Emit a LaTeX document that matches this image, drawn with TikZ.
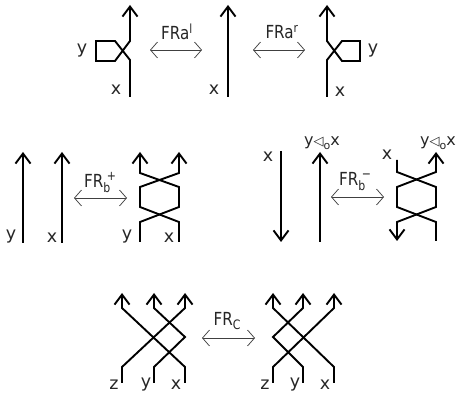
\documentclass[tikz,border=0pt]{standalone}
\usepackage{fontspec}
\setmainfont{DejaVu Sans}
\newfontfamily\frfont{DejaVu Sans}[FakeStretch=0.84]
\usetikzlibrary{arrows.meta}
\newcommand{\frstack}[2]{\raisebox{-5pt}{\fontsize{13}{13}\selectfont\shortstack[l]{\hspace{3.5pt}#1\\#2}}}
\begin{document}
\begin{tikzpicture}[x=1pt,y=-1pt,
  strand/.style={line width=1.9pt},
  upstrand/.style={strand,-{Straight Barb[length=10pt,width=15pt]}},
  move/.style={line width=0.75pt,black!75,{Straight Barb[length=7pt,width=16pt]}-{Straight Barb[length=7pt,width=16pt]}},
  lbl/.style={font=\fontsize{17.5}{17.5}\selectfont,text=black!85,inner sep=0pt,anchor=base},
  frl/.style={font=\frfont\fontsize{18}{18}\selectfont,text=black!85,inner sep=0pt,anchor=base},
  slbl/.style={font=\fontsize{16}{16}\selectfont,text=black!85,inner sep=0pt,anchor=base}]
\useasboundingbox (0,0) rectangle (459,396);
% ---------- top row ----------
\draw[upstrand] (130,97) -- (130,60) -- (115,41) -- (96,41) -- (96,61) -- (115,61) -- (130,41) -- (130,5);
\draw[upstrand] (228,97) -- (228,5);
\draw[upstrand] (327,97) -- (327,60) -- (342,41) -- (360,41) -- (360,61) -- (342,61) -- (327,41) -- (327,5);
\node[lbl] (ya) at (82,54) {y};
\node[lbl] (xa) at (116,95) {x};
\node[lbl] (xb) at (214,95) {x};
\node[lbl] (yc) at (373,54) {y};
\node[lbl] (xc) at (340,97) {x};
\coordinate (m1a) at (150,50); \coordinate (m1b) at (202,50);
\coordinate (m2a) at (253,50); \coordinate (m2b) at (305,50);
\draw[move] (m1a) -- (m1b);
\draw[move] (m2a) -- (m2b);
\node[frl] (fral) at (177,40) {FRa\textsuperscript{l}};
\node[frl] (frar) at (282,39) {FRa\textsuperscript{r}};
% ---------- middle row ----------
\draw[upstrand] (23,243) -- (23,152);
\draw[upstrand] (62,243) -- (62,152);
\node[lbl] (yd) at (11,240) {y};
\node[lbl] (xd) at (52,243) {x};
\coordinate (m3a) at (74,198); \coordinate (m3b) at (127,198);
\draw[move] (m3a) -- (m3b);
\node[frl] (frbp) at (100,188) {FR\frstack{+}{b}};
\draw[upstrand] (140,242) -- (140,222) -- (179,207) -- (179,187) -- (140,173) -- (140,152);
\draw[upstrand] (179,242) -- (179,222) -- (140,207) -- (140,187) -- (179,173) -- (179,152);
\node[lbl] (ye) at (127,240) {y};
\node[lbl] (xe) at (169,243) {x};
% right part
\draw[upstrand] (281,151) -- (281,242);
\draw[upstrand] (320,242) -- (320,152);
\node[lbl] (xf) at (268,162) {x};
\node[slbl] (yf) at (322,146) {y{\fontsize{13}{13}\selectfont ◁}\raisebox{-0.45ex}{\fontsize{11}{11}\selectfont o}x};
\coordinate (m4a) at (331,197); \coordinate (m4b) at (384,197);
\draw[move] (m4a) -- (m4b);
\node[frl] (frbm) at (355,186) {FR\frstack{\textminus}{b}};
\draw[upstrand] (397,160) -- (397,172) -- (436,187) -- (436,207) -- (397,222) -- (397,241);
\draw[upstrand] (436,241) -- (436,222) -- (397,207) -- (397,187) -- (436,172) -- (436,152);
\node[lbl] (xg) at (387,160) {x};
\node[slbl] (yg) at (438,146) {y{\fontsize{13}{13}\selectfont ◁}\raisebox{-0.45ex}{\fontsize{11}{11}\selectfont o}x};
% ---------- bottom row ----------
\draw[upstrand] (122,383) -- (122,367) -- (185,308) -- (185,293);
\draw[upstrand] (185,383) -- (185,367) -- (122,308) -- (122,293);
\draw[upstrand] (154,383) -- (154,367) -- (185,337) -- (154,308) -- (154,293);
\node[lbl] (zh) at (114,390) {z};
\node[lbl] (yh) at (146,388) {y};
\node[lbl] (xh) at (176,390) {x};
\coordinate (m5a) at (202,338); \coordinate (m5b) at (255,338);
\draw[move] (m5a) -- (m5b);
\node[frl] (frc) at (227,326) {FR\raisebox{-0.35ex}{\fontsize{13}{13}\selectfont C}};
\draw[upstrand] (273,383) -- (273,367) -- (334,308) -- (334,293);
\draw[upstrand] (334,383) -- (334,367) -- (273,308) -- (273,293);
\draw[upstrand] (303,383) -- (303,367) -- (273,337) -- (303,308) -- (303,293);
\node[lbl] (zi) at (265,390) {z};
\node[lbl] (yi) at (295,388) {y};
\node[lbl] (xi) at (325,390) {x};
\end{tikzpicture}
\end{document}
